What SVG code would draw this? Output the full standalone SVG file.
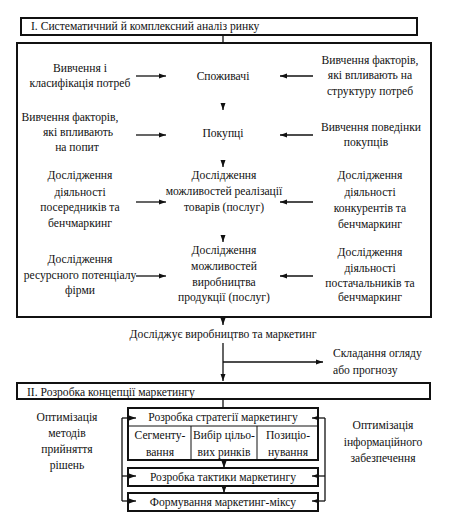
<svg xmlns="http://www.w3.org/2000/svg" width="466" height="521" viewBox="0 0 466 521">
<style>
text{font-family:'Liberation Serif','DejaVu Serif','Times New Roman',serif;font-size:11.6px;fill:#111;}
.c{text-anchor:middle;}
.box{fill:none;stroke:#111;stroke-width:2;}
.thin{fill:none;stroke:#111;stroke-width:1;}
.ln{fill:none;stroke:#111;stroke-width:1.3;}
.ar{fill:none;stroke:#111;stroke-width:1.3;marker-end:url(#ah);}
</style>
<defs>
<marker id="ah" markerUnits="userSpaceOnUse" markerWidth="7" markerHeight="6" refX="7" refY="3" orient="auto">
<path d="M0,0.5 L7,3 L0,5.5 Z" fill="#111"/>
</marker>
</defs>
<rect width="466" height="521" fill="#fff"/>

<g id="header1">
<rect class="box" x="21" y="18" width="396" height="17"/>
<text x="31" y="30">I. Систематичний й комплексний аналіз ринку</text>
</g>
<g id="frame1">
<rect class="box" x="17" y="43" width="414" height="274"/>
</g>

<g id="needs"><text class="c" x="80" y="72">Вивчення і</text><text class="c" x="80" y="87">класифікація потреб</text></g>
<g id="consumers"><text class="c" x="223" y="80">Споживачі</text></g>
<g id="structure"><text class="c" x="370" y="64">Вивчення факторів,</text><text class="c" x="370" y="79">які впливають на</text><text class="c" x="370" y="95">структуру потреб</text></g>

<g id="demand"><text class="c" x="70" y="121">Вивчення факторів,</text><text class="c" x="78" y="136">які впливають</text><text class="c" x="77" y="151">на попит</text></g>
<g id="buyers"><text class="c" x="223" y="137">Покупці</text></g>
<g id="behaviour"><text class="c" x="371" y="131">Вивчення поведінки</text><text class="c" x="366" y="146">покупців</text></g>

<g id="intermediaries"><text class="c" x="80" y="179">Дослідження</text><text class="c" x="80" y="196">діяльності</text><text class="c" x="80" y="211">посередників та</text><text class="c" x="80" y="227">бенчмаркинг</text></g>
<g id="sales"><text class="c" x="224" y="179">Дослідження</text><text class="c" x="224" y="195">можливостей реалізації</text><text class="c" x="224" y="211">товарів (послуг)</text></g>
<g id="competitors"><text class="c" x="370" y="179">Дослідження</text><text class="c" x="370" y="196">діяльності</text><text class="c" x="370" y="212">конкурентів та</text><text class="c" x="370" y="228">бенчмаркинг</text></g>

<g id="resources"><text class="c" x="80" y="263">Дослідження</text><text class="c" x="80" y="279">ресурсного потенціалу</text><text class="c" x="80" y="294">фірми</text></g>
<g id="production"><text class="c" x="224" y="254">Дослідження</text><text class="c" x="224" y="270">можливостей</text><text class="c" x="224" y="286">виробництва</text><text class="c" x="224" y="301">продукції (послуг)</text></g>
<g id="suppliers"><text class="c" x="370" y="256">Дослідження</text><text class="c" x="370" y="272">діяльності</text><text class="c" x="370" y="287">постачальників та</text><text class="c" x="370" y="301">бенчмаркинг</text></g>

<g id="researches"><text class="c" x="223" y="338">Досліджує виробництво та маркетинг</text></g>
<g id="review"><text x="333" y="357">Складання огляду</text><text x="333" y="374">або прогнозу</text></g>

<g id="header2">
<rect class="box" x="17" y="383" width="413" height="16"/>
<text x="27" y="396">II. Розробка концепції маркетингу</text>
</g>

<g id="optMethods"><text class="c" x="67" y="421">Оптимізація</text><text class="c" x="67" y="437">методів</text><text class="c" x="67" y="453">прийняття</text><text class="c" x="67" y="469">рішень</text></g>
<g id="optInfo"><text class="c" x="383" y="429">Оптимізація</text><text class="c" x="383" y="446">інформаційного</text><text class="c" x="383" y="462">забезпечення</text></g>

<g id="strategy">
<rect class="box" x="128" y="408" width="190" height="52"/>
<line class="thin" x1="128" y1="426" x2="318" y2="426" stroke-width="1.5"/>
<line class="thin" x1="191" y1="426" x2="191" y2="460"/>
<line class="thin" x1="257" y1="426" x2="257" y2="460"/>
<text class="c" x="223" y="421">Розробка стратегії маркетингу</text>
<text class="c" x="160" y="439">Сегменту-</text><text class="c" x="160" y="456">вання</text>
<text class="c" x="224" y="439">Вибір цільо-</text><text class="c" x="224" y="456">вих ринків</text>
<text class="c" x="288" y="439">Позиціо-</text><text class="c" x="288" y="456">нування</text>
</g>
<g id="tactics">
<rect class="box" x="128" y="468" width="190" height="18"/>
<text class="c" x="223" y="481">Розробка тактики маркетингу</text>
</g>
<g id="mix">
<rect class="box" x="128" y="493" width="190" height="18"/>
<text class="c" x="223" y="506">Формування маркетинг-міксу</text>
</g>

<g id="connectors">
<line class="ln" x1="223" y1="35" x2="223" y2="43"/>
<line class="ar" x1="136" y1="76" x2="166" y2="76"/>
<line class="ar" x1="313" y1="76" x2="280" y2="76"/>
<line class="ar" x1="223" y1="103" x2="223" y2="110"/>
<line class="ar" x1="136" y1="135" x2="166" y2="135"/>
<line class="ar" x1="313" y1="135" x2="280" y2="135"/>
<line class="ar" x1="223" y1="160" x2="223" y2="167"/>
<line class="ar" x1="136" y1="202" x2="166" y2="202"/>
<line class="ar" x1="313" y1="202" x2="280" y2="202"/>
<line class="ar" x1="223" y1="235" x2="223" y2="242"/>
<line class="ar" x1="136" y1="276" x2="166" y2="276"/>
<line class="ar" x1="313" y1="276" x2="280" y2="276"/>
<line class="ar" x1="223" y1="317" x2="223" y2="325"/>
<line class="ar" x1="223" y1="343" x2="223" y2="381"/>
<line class="ar" x1="223" y1="362" x2="323" y2="362"/>
<line class="ln" x1="223" y1="399" x2="223" y2="408"/>
<line class="ar" x1="224" y1="460" x2="224" y2="468"/>
<line class="ar" x1="224" y1="486" x2="224" y2="493"/>
<polyline class="ln" points="122,418 122,501"/>
<line class="ar" x1="122" y1="418" x2="136" y2="418"/>
<line class="ar" x1="122" y1="476" x2="136" y2="476"/>
<line class="ar" x1="122" y1="501" x2="136" y2="501"/>
<polyline class="ln" points="325,418 325,501"/>
<line class="ar" x1="325" y1="418" x2="312" y2="418"/>
<line class="ar" x1="325" y1="476" x2="312" y2="476"/>
<line class="ar" x1="325" y1="501" x2="312" y2="501"/>
</g>
</svg>
